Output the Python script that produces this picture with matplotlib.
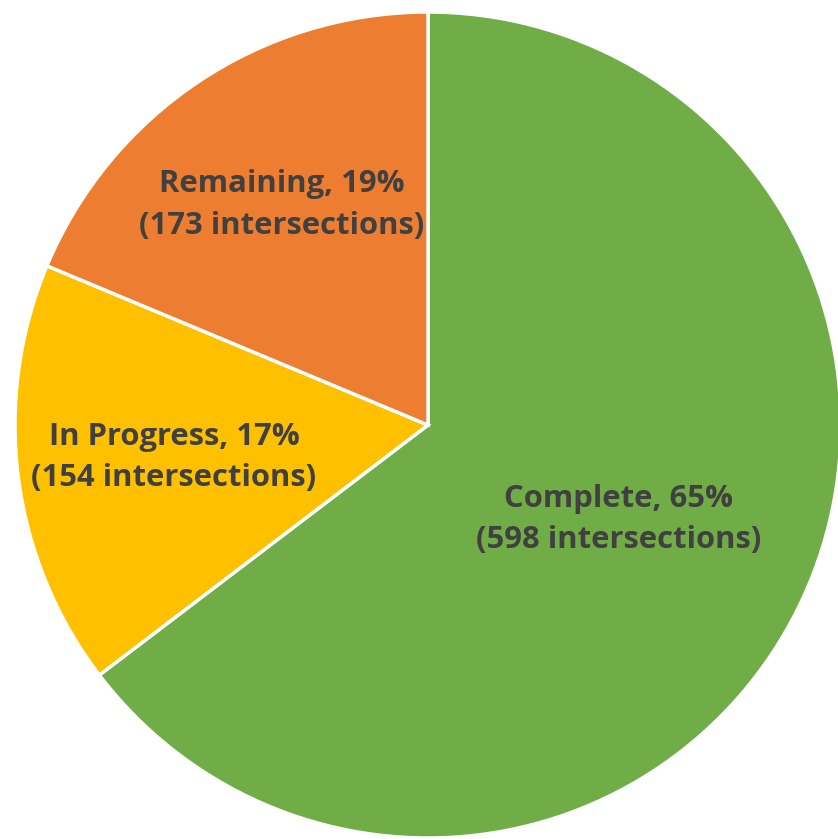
import matplotlib
matplotlib.use("Agg")
import matplotlib.pyplot as plt
import numpy as np

categories = ["Complete", "In Progress", "Remaining"]
counts = [598, 154, 173]
percent_labels = ["65%", "17%", "19%"]
colors = ["#70AD47", "#FFC000", "#ED7D31"]
label_dist = [0.515, 0.62, 0.64]

W, H = 838, 839
fig = plt.figure(figsize=(W / 100, H / 100), dpi=100)
ax = fig.add_axes([0, 0, 1, 1])

cx, cy, R = 428, H - 425, 413
wedges, _ = ax.pie(counts, colors=colors, startangle=90, counterclock=False,
                   center=(cx, cy), radius=R, frame=True,
                   wedgeprops=dict(edgecolor="white", linewidth=2.5))
ax.set_xlim(0, W)
ax.set_ylim(0, H)
ax.set_aspect("equal")
ax.axis("off")

total = sum(counts)
start = 90.0
for cat, n, pct, d in zip(categories, counts, percent_labels, label_dist):
    span = n / total * 360
    mid = np.deg2rad(start - span / 2)
    start -= span
    x = cx + d * R * np.cos(mid)
    y = cy + d * R * np.sin(mid)
    ax.text(x, y, f"{cat}, {pct}\n({n} intersections)", ha="center", va="center",
            fontsize=22.3, fontweight="bold", color="#404040",
            family=["Open Sans", "DejaVu Sans"], linespacing=1.5)

fig.savefig("out.png", dpi=100)
